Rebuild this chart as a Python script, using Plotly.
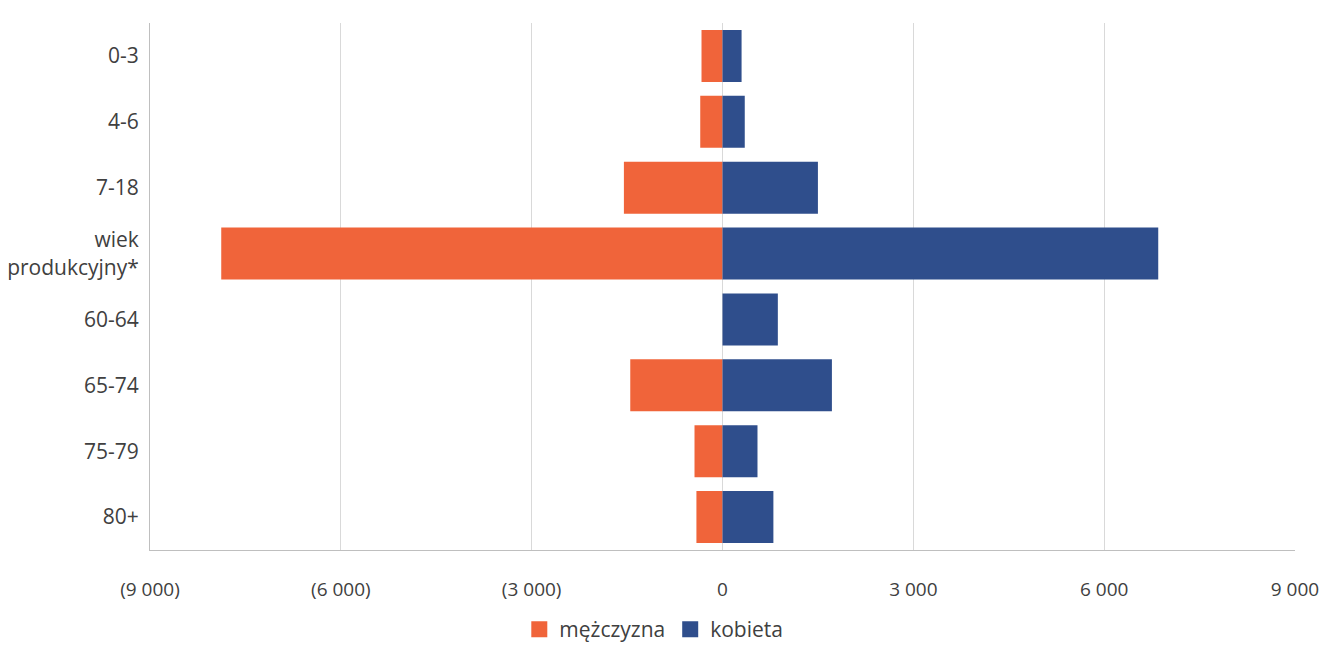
import plotly.graph_objects as go

categories = ["0-3", "4-6", "7-18", "wiek<br>produkcyjny*", "60-64", "65-74", "75-79", "80+"]
men = [-330, -350, -1550, -7880, 0, -1450, -440, -410]
women = [300, 350, 1500, 6850, 870, 1720, 550, 800]
tick_vals = [-9000, -6000, -3000, 0, 3000, 6000, 9000]
tick_text = ["(9 000)", "(6 000)", "(3 000)", "0", "3 000", "6 000", "9 000"]

ORANGE = "#F0643A"
BLUE = "#2F4E8C"

fig = go.Figure()
fig.add_trace(go.Bar(y=categories, x=men, orientation="h", name="mężczyzna",
                     marker=dict(color=ORANGE, line=dict(width=0)), showlegend=False))
fig.add_trace(go.Bar(y=categories, x=women, orientation="h", name="kobieta",
                     marker=dict(color=BLUE, line=dict(width=0)), showlegend=False))
# legend entries with larger square symbols
fig.add_trace(go.Scatter(x=[None], y=[None], mode="markers", name="mężczyzna",
                         marker=dict(symbol="square", size=20, color=ORANGE)))
fig.add_trace(go.Scatter(x=[None], y=[None], mode="markers", name="kobieta",
                         marker=dict(symbol="square", size=20, color=BLUE)))

fig.update_layout(
    width=1329, height=649,
    barmode="relative", bargap=0.21,
    paper_bgcolor="white", plot_bgcolor="white",
    margin=dict(l=142, r=42, t=15, b=107, autoexpand=False),
    font=dict(family="Open Sans", size=21, color="#404040"),
    xaxis=dict(range=[-9000, 9000], tickvals=tick_vals, ticktext=tick_text,
               automargin=False, tickfont=dict(size=19),
               showgrid=True, gridcolor="#D9D9D9", gridwidth=1,
               zeroline=True, zerolinecolor="#D9D9D9", zerolinewidth=1,
               showline=True, linecolor="#BFBFBF", linewidth=1,
               ticks="outside", ticklen=22, tickcolor="rgba(0,0,0,0)"),
    yaxis=dict(autorange="reversed", showgrid=False, showline=True, automargin=False,
               linecolor="#BFBFBF", linewidth=1, ticks="outside", ticklen=6,
               tickcolor="rgba(0,0,0,0)"),
    legend=dict(orientation="h", x=0.44, xanchor="center", y=-0.112, yanchor="top",
                font=dict(size=21), itemwidth=30, traceorder="normal",
                tracegroupgap=0),
)

fig.write_html("out.html")
